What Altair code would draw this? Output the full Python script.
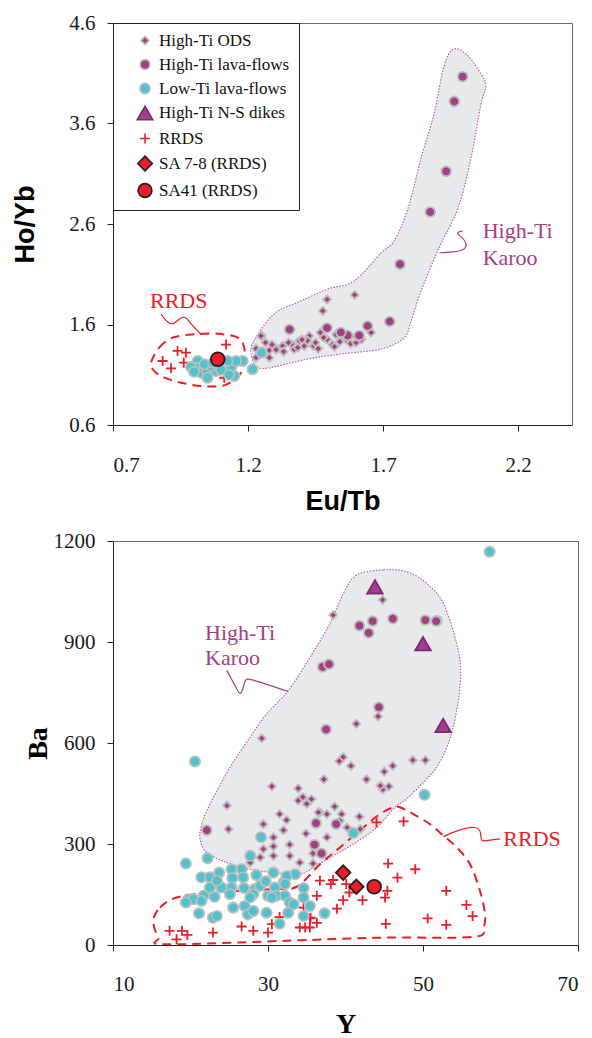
import altair as alt
import pandas as pd

# ---------------- legend / series definitions ----------------
SERIES = ["High-Ti ODS", "High-Ti lava-flows", "Low-Ti lava-flows", "High-Ti N-S dikes",
          "RRDS", "SA 7-8 (RRDS)", "SA41 (RRDS)"]
SHAPES = ["diamond", "circle", "circle", "triangle-up", "M-1,0L1,0M0,-1L0,1", "diamond", "circle"]
FILL_COLORS = ["#A3407F", "#A3407F", "#4DC3CD", "#A03F8E", "transparent", "#EE1D25", "#EE1D25"]
STROKE_COLORS = ["#BDBDBD", "#BDBDBD", "#BDBDBD", "#7E2A72", "#EE1D25", "#231F20", "#231F20"]
SIZES = [64, 95, 105, 240, 100, 210, 190]

# ---------------- top panel: Eu/Tb vs Ho/Yb ----------------
TOP_ODS_X = [1.595, 1.493, 1.477, 1.251, 1.656, 1.23, 1.23, 1.279, 1.279, 1.289, 1.328, 1.332, 1.363,
             1.39, 1.408, 1.443, 1.427, 1.468, 1.493, 1.513, 1.526, 1.563, 1.307, 1.371, 1.248, 1.304,
             1.384, 1.35, 1.42, 1.45, 1.54, 1.58, 1.60, 1.62, 1.48, 1.40, 1.46, 1.52, 1.265, 1.60]
TOP_ODS_Y = [1.894, 1.85, 1.735, 1.49, 1.52, 1.36, 1.27, 1.343, 1.27, 1.40, 1.386, 1.33, 1.40,
             1.436, 1.386, 1.386, 1.486, 1.52, 1.453, 1.40, 1.50, 1.453, 1.353, 1.353, 1.486, 1.35,
             1.37, 1.42, 1.44, 1.42, 1.43, 1.41, 1.42, 1.45, 1.47, 1.45, 1.36, 1.38, 1.42, 1.48]
TOP_LAVA_X = [1.995, 1.964, 1.934, 1.875, 1.763, 1.725, 1.643, 1.612, 1.569, 1.493, 1.354, 1.544]
TOP_LAVA_Y = [4.066, 3.82, 3.124, 2.72, 2.20, 1.63, 1.585, 1.49, 1.49, 1.565, 1.55, 1.52]
TOP_LOWTI_X = [1.014, 1.007, 1.026, 1.048, 1.05, 1.081, 1.063, 1.112, 1.137, 1.149, 1.18, 1.217,
               1.156, 1.125, 1.094, 1.038, 0.989, 1.07, 1.10, 1.13, 1.00, 1.25]
TOP_LOWTI_Y = [1.237, 1.17, 1.12, 1.137, 1.07, 1.137, 1.187, 1.187, 1.17, 1.087, 1.237, 1.154,
               1.237, 1.237, 1.204, 1.204, 1.177, 1.22, 1.15, 1.10, 1.13, 1.32]
TOP_RRDS_X = [1.119, 0.939, 0.97, 0.884, 0.915, 0.962, 1.112]
TOP_RRDS_Y = [1.40, 1.337, 1.32, 1.237, 1.164, 1.22, 1.07]
TOP_SA41_X = [1.088]
TOP_SA41_Y = [1.254]

TOP_KAROO_X = [1.211, 1.222, 1.296, 1.396, 1.496, 1.593, 1.693, 1.741, 1.793, 1.841, 1.889, 1.926,
               1.963, 2.015, 2.063, 2.081, 2.063, 2.026, 1.978, 1.907, 1.841, 1.804, 1.778, 1.693,
               1.544, 1.422, 1.274, 1.23]
TOP_KAROO_Y = [1.316, 1.436, 1.705, 1.834, 1.953, 2.033, 2.314, 2.431, 2.759, 3.257, 3.694, 4.172,
               4.341, 4.272, 4.093, 3.973, 3.794, 3.257, 2.759, 2.361, 1.933, 1.635, 1.466, 1.356,
               1.307, 1.257, 1.167, 1.187]
TOP_RRDS_ENV_X = [0.841, 0.871, 0.921, 1.001, 1.088, 1.162, 1.186, 1.186, 1.174, 1.143, 1.10, 1.026,
                  0.952, 0.890, 0.853]
TOP_RRDS_ENV_Y = [1.220, 1.369, 1.469, 1.502, 1.508, 1.469, 1.369, 1.237, 1.120, 1.038, 0.988, 0.988,
                  1.021, 1.071, 1.137]
TOP_RRDS_LEAD_X = [0.878, 0.896, 0.921, 0.946, 0.970, 0.989, 1.026]
TOP_RRDS_LEAD_Y = [1.703, 1.637, 1.584, 1.666, 1.683, 1.600, 1.505]
TOP_KAROO_LEAD_X = [1.909, 2.014, 2.007, 1.964, 1.995]
TOP_KAROO_LEAD_Y = [2.314, 2.324, 2.448, 2.514, 2.530]
TOP_LABEL_TEXT = ["RRDS", "High-Ti", "Karoo"]
TOP_LABEL_X = [0.837, 2.069, 2.069]
TOP_LABEL_Y = [1.834, 2.530, 2.264]
TOP_LABEL_COLOR = ["#EE1D25", "#A3407F", "#A3407F"]

# ---------------- bottom panel: Y vs Ba ----------------
BOT_ODS_X = [44.8, 38.4, 44.2, 41.4, 29.2, 39.7, 39.2, 40.7, 37.2, 42.7, 45.0, 46.1, 45.6, 44.8, 48.7,
             50.3, 30.5, 33.9, 33.9, 34.5, 35.6, 35.0, 38.6, 24.7, 31.5, 32.4, 29.4, 24.9, 32.0, 36.7,
             37.6, 39.3, 34.9, 37.6, 30.7, 32.8, 29.4, 30.7, 29.0, 32.8, 30.7, 35.8, 35.8, 34.1, 27.7,
             40.2, 39.5, 41.8, 41.9, 36.9, 36.5, 44.5]
BOT_ODS_Y = [1025, 980, 679, 657, 614, 558, 546, 532, 492, 492, 515, 532, 471, 462, 549,
             549, 471, 465, 429, 439, 433, 419, 411, 414, 389, 371, 359, 344, 341, 394,
             389, 369, 331, 320, 320, 298, 285, 293, 260, 265, 265, 272, 242, 245, 245,
             349, 389, 381, 344, 270, 394, 473]
BOT_LAVA_X = [51.8, 41.8, 43.5, 43.0, 46.1, 50.3, 51.7, 37.05, 37.87, 44.3, 37.5, 22.1, 36.2, 38.8,
              36.0, 36.9]
BOT_LAVA_Y = [963, 948, 962, 927, 969, 965, 962, 826, 834, 706, 640, 341, 362, 359, 298, 272]
BOT_LOWTI_X = [58.6, 20.58, 50.2, 41.0, 19.4, 22.2, 29.1, 27.7,
               21.4, 22.5, 23.7, 25.3, 26.6, 25.4, 26.8, 28.5, 30.7, 32.0, 33.5, 32.4, 22.5, 24.0,
               25.3, 23.4, 26.9, 28.3, 29.0, 29.7, 30.9, 32.2, 34.6, 19.7, 20.4, 19.4, 21.7, 21.4,
               23.1, 25.1, 28.1, 30.0, 31.1, 32.2, 34.6, 32.8, 27.0, 25.5, 35.4, 33.3, 21.1, 22.9,
               23.4, 27.4, 28.1, 29.8, 32.6, 34.6, 31.5, 37.3, 27.7, 30.5]
BOT_LOWTI_Y = [1168, 545, 446, 333, 242, 258, 320, 265,
               201, 201, 215, 225, 225, 199, 201, 208, 215, 186, 210, 205, 171, 171,
               171, 191, 169, 166, 176, 189, 171, 181, 169, 136, 136, 126, 146, 131,
               143, 151, 151, 146, 146, 146, 141, 126, 116, 111, 116, 121, 94, 81,
               86, 91, 101, 96, 96, 86, 63, 94, 141, 141]
BOT_DIKE_X = [43.8, 50.0, 52.6]
BOT_DIKE_Y = [1064, 895, 652]
BOT_RRDS_X = [44.0, 47.5, 45.5, 49.0, 46.7, 36.7, 38.4, 38.1, 40.1, 45.4, 45.1, 40.5, 39.7, 42.2,
              36.3, 38.9, 53.0, 55.6, 56.4, 50.6, 53.0, 45.2, 35.4, 36.3, 34.8, 35.4, 34.6, 35.5,
              34.1, 30.5, 31.5, 30.0, 28.1, 26.6, 22.9, 18.9, 17.3, 19.6, 18.2]
BOT_RRDS_Y = [364, 367, 242, 225, 200, 191, 193, 181, 181, 161, 141, 156, 133, 133,
              146, 108, 161, 119, 86, 79, 60, 63, 79, 66, 52, 52, 111, 81,
              52, 62, 83, 37, 42, 55, 37, 42, 42, 30, 17]
BOT_SA78_X = [39.7, 41.4]
BOT_SA78_Y = [215, 173]
BOT_SA41_X = [43.7]
BOT_SA41_Y = [173]

BOT_KAROO_X = [41.45, 44.88, 47.90, 50.48, 52.62, 54.35, 54.86, 54.35, 53.26, 51.77, 50.26, 47.90,
               46.39, 44.03, 41.01, 38.43, 35.85, 34.13, 30.68, 27.68, 24.67, 22.09, 21.23, 21.45,
               22.52, 25.10, 27.68, 29.83, 32.62, 35.42, 38.0, 39.72]
BOT_KAROO_Y = [1099, 1114, 1109, 1074, 1015, 895, 806, 697, 598, 528, 488, 434,
               409, 349, 300, 265, 230, 211, 215, 225, 245, 275, 315, 359,
               419, 528, 617, 687, 756, 855, 955, 1044]
BOT_RRDS_ENV_X = [15.2, 16.06, 18.22, 22.52, 26.39, 30.68, 33.70, 36.71, 39.29, 42.30, 44.45, 46.17,
                  47.03, 48.75, 50.90, 52.62, 54.35, 56.06, 57.35, 58.0, 57.78, 56.49, 44.88, 34.13,
                  16.93, 15.85]
BOT_RRDS_ENV_Y = [71, 111, 141, 156, 161, 166, 173, 240, 290, 349, 389, 409,
                  409, 389, 359, 325, 290, 240, 161, 91, 52, 24, 22, 14, 2, 22]
BOT_KAROO_LEAD_X = [24.67, 25.96, 26.39, 26.81, 27.03, 27.68, 32.62]
BOT_KAROO_LEAD_Y = [816, 761, 741, 761, 791, 791, 753]
BOT_RRDS_LEAD_X = [52.62, 54.77, 56.93, 57.57, 57.35, 58.65, 59.94]
BOT_RRDS_LEAD_Y = [322, 344, 354, 334, 305, 312, 315]
BOT_LABEL_TEXT = ["High-Ti", "Karoo", "RRDS"]
BOT_LABEL_X = [21.87, 21.87, 60.37]
BOT_LABEL_Y = [927, 851, 316]
BOT_LABEL_COLOR = ["#A3407F", "#A3407F", "#EE1D25"]

RED = "#EE1D25"
PURPLE = "#A3407F"
KAROO_FILL = "#E8E9EB"
KAROO_EDGE = "#B0589A"
SERIF = "Liberation Serif"
SANS = "Liberation Sans"


def pts(groups):
    rows = []
    for name, xs, ys in groups:
        for x, y in zip(xs, ys):
            rows.append({"series": name, "x": x, "y": y})
    return pd.DataFrame(rows)


def seq(xs, ys):
    return pd.DataFrame({"x": xs, "y": ys, "i": list(range(len(xs)))})


def panel(xenc, yenc, point_df, karoo, rrds_env, leaders, labels, legend):
    layers = []
    layers.append(alt.Chart(seq(*karoo)).mark_line(
        interpolate="cardinal-closed", fill=KAROO_FILL, stroke=KAROO_EDGE,
        strokeWidth=1.1, strokeDash=[1.5, 1.5]).encode(x=xenc, y=yenc, order="i:Q"))
    layers.append(alt.Chart(seq(*rrds_env)).mark_line(
        interpolate="cardinal-closed", stroke=RED, strokeWidth=2,
        strokeDash=[9, 6]).encode(x=xenc, y=yenc, order="i:Q"))
    for xs, ys, col in leaders:
        layers.append(alt.Chart(seq(xs, ys)).mark_line(
            interpolate="basis", stroke=col, strokeWidth=1.2).encode(x=xenc, y=yenc, order="i:Q"))
    enc = dict(
        x=xenc, y=yenc,
        fill=alt.Fill("series:N", scale=alt.Scale(domain=SERIES, range=FILL_COLORS), legend=legend),
        stroke=alt.Stroke("series:N", scale=alt.Scale(domain=SERIES, range=STROKE_COLORS), legend=legend),
        shape=alt.Shape("series:N", scale=alt.Scale(domain=SERIES, range=SHAPES), legend=legend),
        size=alt.Size("series:N", scale=alt.Scale(type="ordinal", domain=SERIES, range=SIZES), legend=legend),
    )
    layers.append(alt.Chart(point_df).mark_point(filled=True, strokeWidth=1.8, opacity=1).encode(**enc))
    txt, lx, ly, lc = labels
    for t, x, y, c in zip(txt, lx, ly, lc):
        layers.append(alt.Chart(pd.DataFrame({"x": [x], "y": [y], "t": [t]})).mark_text(
            font=SERIF, fontSize=22, align="left", baseline="middle", color=c
        ).encode(x=xenc, y=yenc, text="t:N"))
    return alt.layer(*layers)


TW, TH = 459, 402
BW, BH = 465, 404

AX = dict(labelFont=SERIF, labelFontSize=21, labelColor="#1a1a1a", grid=False,
          domainColor="#222", tickColor="#222", tickSize=6)

top_x = alt.X("x:Q", scale=alt.Scale(domain=[0.7, 2.4], nice=False, zero=False),
              axis=alt.Axis(values=[0.7, 1.2, 1.7, 2.2], format=".1f", title="Eu/Tb",
                            labelPadding=23, titleFont=SANS, titleFontWeight="bold",
                            titleFontSize=27, titleY=76, titleBaseline="middle", **AX))
top_y = alt.Y("y:Q", scale=alt.Scale(domain=[0.6, 4.6], nice=False, zero=False),
              axis=alt.Axis(values=[0.6, 1.6, 2.6, 3.6, 4.6], format=".1f", title="Ho/Yb",
                            labelPadding=12, titleFont=SANS, titleFontWeight="bold",
                            titleFontSize=27, titleX=-88, titleY=TH / 2, titleBaseline="middle",
                            titleAngle=270, **AX))

bot_x = alt.X("x:Q", scale=alt.Scale(domain=[10, 70], nice=False, zero=False),
              axis=alt.Axis(values=[10, 30, 50, 70], format="d", title="Y",
                            labelPadding=22, titleFont=SERIF, titleFontWeight="bold",
                            titleFontSize=28, titleY=93, titleBaseline="bottom", **AX))
bot_y = alt.Y("y:Q", scale=alt.Scale(domain=[0, 1200], nice=False, zero=False),
              axis=alt.Axis(values=[0, 300, 600, 900, 1200], format="d", title="Ba",
                            labelPadding=12, titleFont=SERIF, titleFontWeight="bold",
                            titleFontSize=28, titleX=-75, titleY=BH / 2, titleBaseline="middle",
                            titleAngle=270, **AX))

legend = alt.Legend(title=None, orient="none", legendX=0, legendY=0, padding=9,
                    strokeColor="#222", fillColor="white", labelFont=SERIF,
                    labelFontSize=17, labelColor="#111", rowPadding=6, symbolOffset=14,
                    labelOffset=5, symbolStrokeWidth=1.6)

top_df = pts([("RRDS", TOP_RRDS_X, TOP_RRDS_Y),
              ("High-Ti ODS", TOP_ODS_X, TOP_ODS_Y),
              ("High-Ti lava-flows", TOP_LAVA_X, TOP_LAVA_Y),
              ("Low-Ti lava-flows", TOP_LOWTI_X, TOP_LOWTI_Y),
              ("SA41 (RRDS)", TOP_SA41_X, TOP_SA41_Y)])
bot_df = pts([("RRDS", BOT_RRDS_X, BOT_RRDS_Y),
              ("High-Ti ODS", BOT_ODS_X, BOT_ODS_Y),
              ("High-Ti lava-flows", BOT_LAVA_X, BOT_LAVA_Y),
              ("Low-Ti lava-flows", BOT_LOWTI_X, BOT_LOWTI_Y),
              ("High-Ti N-S dikes", BOT_DIKE_X, BOT_DIKE_Y),
              ("SA 7-8 (RRDS)", BOT_SA78_X, BOT_SA78_Y),
              ("SA41 (RRDS)", BOT_SA41_X, BOT_SA41_Y)])

top = panel(top_x, top_y, top_df, (TOP_KAROO_X, TOP_KAROO_Y), (TOP_RRDS_ENV_X, TOP_RRDS_ENV_Y),
            [(TOP_RRDS_LEAD_X, TOP_RRDS_LEAD_Y, RED), (TOP_KAROO_LEAD_X, TOP_KAROO_LEAD_Y, PURPLE)],
            (TOP_LABEL_TEXT, TOP_LABEL_X, TOP_LABEL_Y, TOP_LABEL_COLOR), legend
            ).properties(width=TW, height=TH)
bot = panel(bot_x, bot_y, bot_df, (BOT_KAROO_X, BOT_KAROO_Y), (BOT_RRDS_ENV_X, BOT_RRDS_ENV_Y),
            [(BOT_KAROO_LEAD_X, BOT_KAROO_LEAD_Y, PURPLE), (BOT_RRDS_LEAD_X, BOT_RRDS_LEAD_Y, RED)],
            (BOT_LABEL_TEXT, BOT_LABEL_X, BOT_LABEL_Y, BOT_LABEL_COLOR), None
            ).properties(width=BW, height=BH)

chart = alt.vconcat(top, bot, spacing=116, bounds="flush").resolve_scale(
    fill="independent", stroke="independent", shape="independent", size="independent"
).resolve_legend(
    fill="independent", stroke="independent", shape="independent", size="independent"
).properties(
    padding={"left": 10, "top": 11, "right": 0, "bottom": 0}
).configure_view(stroke="#666", strokeWidth=1).configure_axis(
    grid=False, domainColor="#222", tickColor="#222", labelFont=SERIF,
    labelFontSize=21, labelColor="#1a1a1a", tickSize=6, domainWidth=1, tickWidth=1
).configure_text(font=SERIF)

chart.save("out.html", embed_options={"renderer": "svg", "actions": False})
